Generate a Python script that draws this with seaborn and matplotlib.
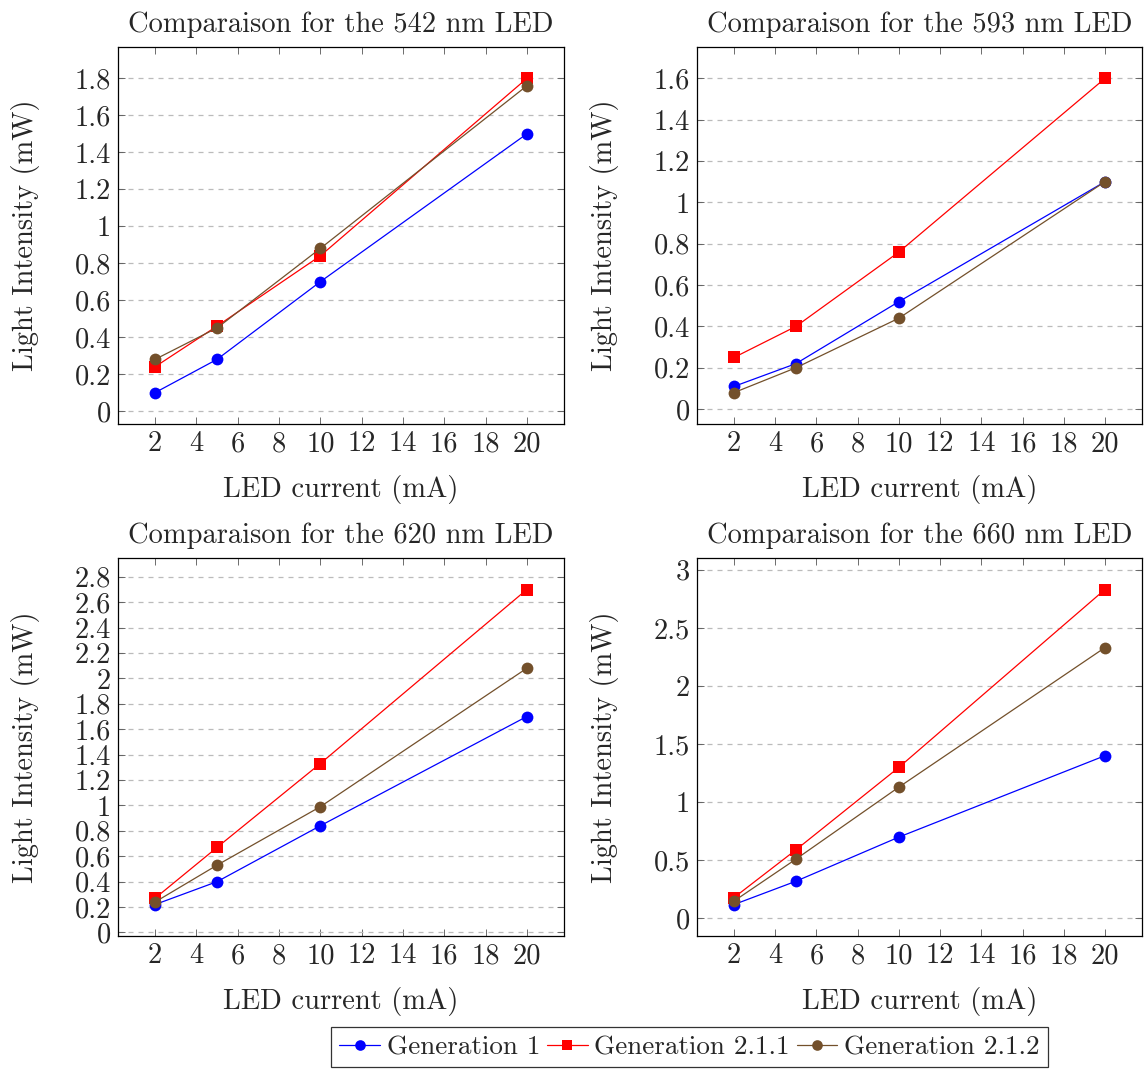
import numpy as np
import pandas as pd
import matplotlib
matplotlib.use("Agg")
import matplotlib.pyplot as plt
import seaborn as sns
from matplotlib.ticker import FuncFormatter, MultipleLocator

# ---- data ----
currents = [2, 5, 10, 20]
series_names = ["Generation 1", "Generation 2.1.1", "Generation 2.1.2"]
titles = ["Comparaison for the 542 nm LED", "Comparaison for the 593 nm LED",
          "Comparaison for the 620 nm LED", "Comparaison for the 660 nm LED"]

led542_gen1 = [0.10, 0.28, 0.70, 1.50]
led542_gen211 = [0.24, 0.46, 0.84, 1.80]
led542_gen212 = [0.28, 0.45, 0.88, 1.76]

led593_gen1 = [0.11, 0.22, 0.52, 1.10]
led593_gen211 = [0.25, 0.40, 0.76, 1.60]
led593_gen212 = [0.08, 0.20, 0.44, 1.10]

led620_gen1 = [0.22, 0.40, 0.84, 1.70]
led620_gen211 = [0.27, 0.67, 1.33, 2.70]
led620_gen212 = [0.24, 0.53, 0.99, 2.08]

led660_gen1 = [0.12, 0.32, 0.70, 1.40]
led660_gen211 = [0.18, 0.59, 1.30, 2.83]
led660_gen212 = [0.15, 0.51, 1.13, 2.33]

ytick_steps = [0.2, 0.2, 0.2, 0.5]

panels = [
    (led542_gen1, led542_gen211, led542_gen212),
    (led593_gen1, led593_gen211, led593_gen212),
    (led620_gen1, led620_gen211, led620_gen212),
    (led660_gen1, led660_gen211, led660_gen212),
]

# ---- style ----
sns.set_theme(style="white")
plt.rcParams["font.family"] = ["cmr10", "DejaVu Serif"]
plt.rcParams["axes.unicode_minus"] = False
plt.rcParams["mathtext.fontset"] = "cm"
FS = 20.5

colors = {"Generation 1": "#0000ff", "Generation 2.1.1": "#ff0000",
          "Generation 2.1.2": "#73502b"}
markers = {"Generation 1": "o", "Generation 2.1.1": "s", "Generation 2.1.2": "o"}

W, H = 1144, 1071
fig = plt.figure(figsize=(W / 100, H / 100), dpi=100)

# axes boxes in pixels: left, top, right, bottom
boxes = [(118, 47, 564, 424), (697, 47, 1142, 424),
         (118, 558, 564, 936), (697, 558, 1142, 936)]

fmt = FuncFormatter(lambda v, p: ("%g" % round(v, 6)))

for i, (box, vals) in enumerate(zip(boxes, panels)):
    l, t, r, b = box
    ax = fig.add_axes([l / W, 1 - b / H, (r - l) / W, (b - t) / H])
    df = pd.DataFrame({
        "current": currents * 3,
        "value": list(vals[0]) + list(vals[1]) + list(vals[2]),
        "series": sum([[s] * len(currents) for s in series_names], []),
    })
    for s in series_names:
        sns.lineplot(data=df[df["series"] == s], x="current", y="value",
                     color=colors[s], marker=markers[s], markersize=8.5,
                     markeredgewidth=0, linewidth=0.9, ax=ax, legend=False,
                     label=s)
    allv = np.array(vals).ravel()
    lo, hi = allv.min(), allv.max()
    pad = 0.1 * (hi - lo)
    ax.set_ylim(lo - pad, hi + pad)
    ax.set_xlim(2 - 1.8, 20 + 1.8)
    ax.set_xticks(np.arange(2, 21, 2))
    ax.yaxis.set_major_locator(MultipleLocator(ytick_steps[i]))
    ax.yaxis.set_major_formatter(fmt)
    ax.xaxis.set_major_formatter(fmt)
    ax.grid(True, axis="y", linestyle=(0, (4, 4)), color="#bbbbbb", linewidth=0.9)
    ax.grid(False, axis="x")
    ax.tick_params(direction="in", length=5, width=0.6, color="#555555",
                   top=True, right=True, bottom=True, left=True,
                   labelsize=FS, pad=5)
    for sp in ax.spines.values():
        sp.set_color("black")
        sp.set_linewidth(0.9)
    ax.set_title(titles[i], fontsize=FS, pad=11)
    ax.set_xlabel("LED current (mA)", fontsize=FS, labelpad=13)
    ax.set_ylabel("Light Intensity (mW)", fontsize=FS, labelpad=25)
    if i == 0:
        handles, labels = ax.get_legend_handles_labels()

leg = fig.legend(handles, labels, loc="upper center", ncol=3,
                 bbox_to_anchor=(689.5 / W, 1 - 1027 / H), fontsize=19.5,
                 frameon=True, fancybox=False, edgecolor="black",
                 handlelength=1.5, handletextpad=0.25, columnspacing=0.25,
                 borderpad=0.3, borderaxespad=0, markerscale=0.9)
leg.get_frame().set_linewidth(0.9)

fig.savefig("out.png", dpi=100)
